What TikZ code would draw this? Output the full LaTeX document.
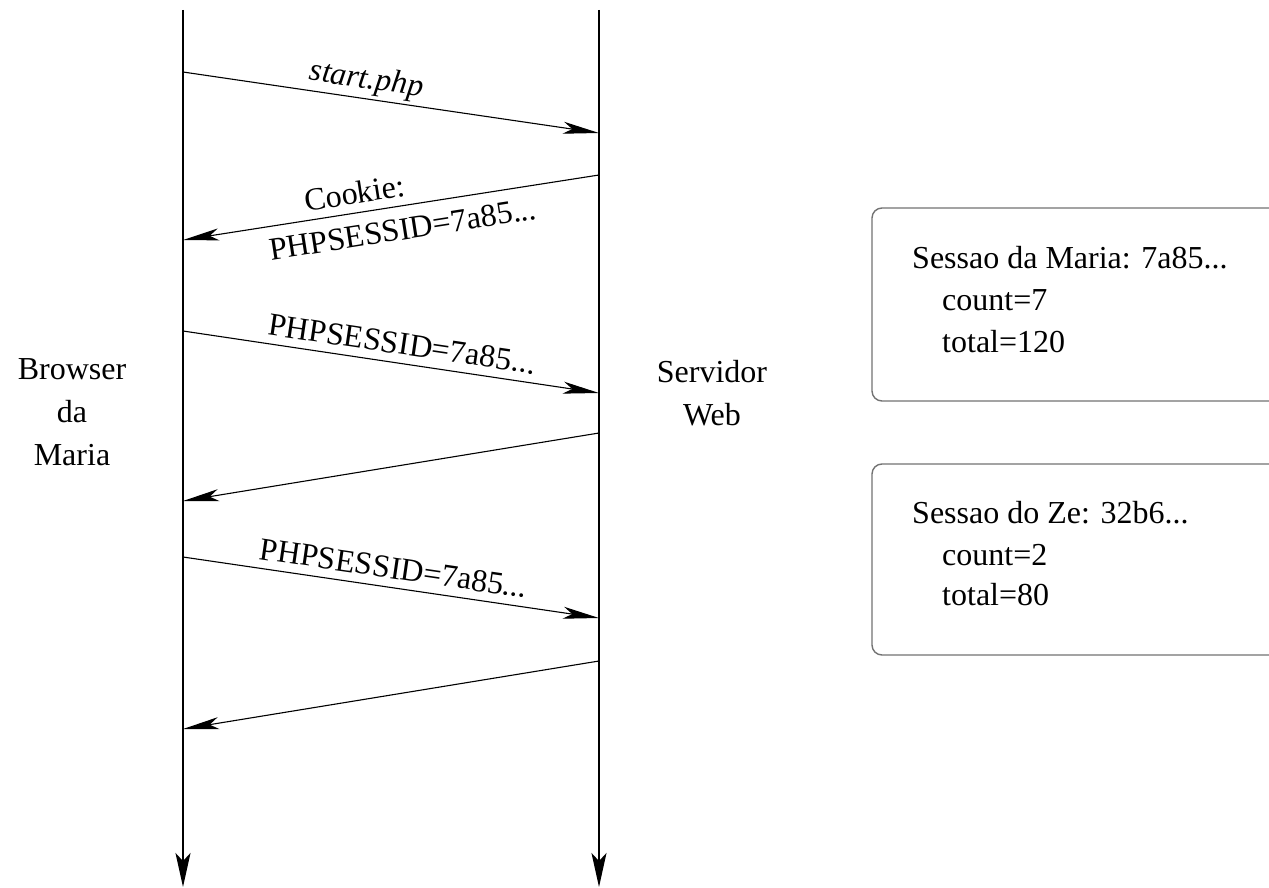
\documentclass[tikz,border=0pt]{standalone}
\usepackage{fontspec}
\setmainfont{Liberation Serif}
\usetikzlibrary{arrows.meta}
\begin{document}
\begin{tikzpicture}[x=1pt,y=-1pt,
  every node/.style={font=\fontsize{32}{43}\selectfont, inner sep=0pt},
  life/.style={line width=2pt, -{Stealth[length=34pt,width=15pt,inset=8pt]}},
  msg/.style={line width=1.1pt, -{Stealth[length=36pt,width=12pt,inset=9pt]}},
  lblup/.style={sloped, above=8pt},
  lbldown/.style={sloped, below=12pt},
  sbox/.style={draw=black!55, line width=1.4pt, rounded corners=10pt},
]
\clip (0,0) rectangle (1269,888);
\fill[white] (0,0) rectangle (1269,888);
% lifelines
\coordinate (btop) at (183,10);
\coordinate (bbot) at (183,887);
\coordinate (stop) at (599,10);
\coordinate (sbot) at (599,887);
\draw[life] (btop) -- (bbot);
\draw[life] (stop) -- (sbot);
% participants
\node[align=center, anchor=base] (browser) at (72,465) {Browser\\da\\Maria};
\node[align=center, anchor=base] (server) at (712,425) {Servidor\\Web};
% message endpoints
\coordinate (b1) at (183,72);  \coordinate (s1) at (599,133);
\coordinate (s2) at (599,175); \coordinate (b2) at (183,240);
\coordinate (b3) at (183,331); \coordinate (s3) at (599,393);
\coordinate (s4) at (599,433); \coordinate (b4) at (183,501);
\coordinate (b5) at (183,557); \coordinate (s5) at (599,618);
\coordinate (s6) at (599,661); \coordinate (b6) at (183,729);
\draw[msg] (b1) -- node[sloped, above=3pt, pos=0.435] (m1) {\itshape start.php} (s1);
\draw[msg] (s2) -- node[lblup, pos=0.58] (m2a) {Cookie:}
                   node[lbldown, pos=0.48] (m2b) {PHPSESSID=7a85...} (b2);
\draw[msg] (b3) -- node[lblup, pos=0.52] (m3) {PHPSESSID=7a85...} (s3);
\draw[msg] (s4) -- (b4);
\draw[msg] (b5) -- node[lblup, pos=0.50] (m5) {PHPSESSID=7a85...} (s5);
\draw[msg] (s6) -- (b6);
% session boxes
\draw[sbox] (872,208) rectangle (1300,401);
\node[anchor=base west] (t1) at (912,268) {Sessao da Maria: 7a85...};
\node[anchor=base west] (t1a) at (942,310) {count=7};
\node[anchor=base west] (t1b) at (942,352) {total=120};
\draw[sbox] (872,464) rectangle (1300,655);
\node[anchor=base west] (t2) at (912,523) {Sessao do Ze: 32b6...};
\node[anchor=base west] (t2a) at (942,565) {count=2};
\node[anchor=base west] (t2b) at (942,605) {total=80};
\end{tikzpicture}
\end{document}
